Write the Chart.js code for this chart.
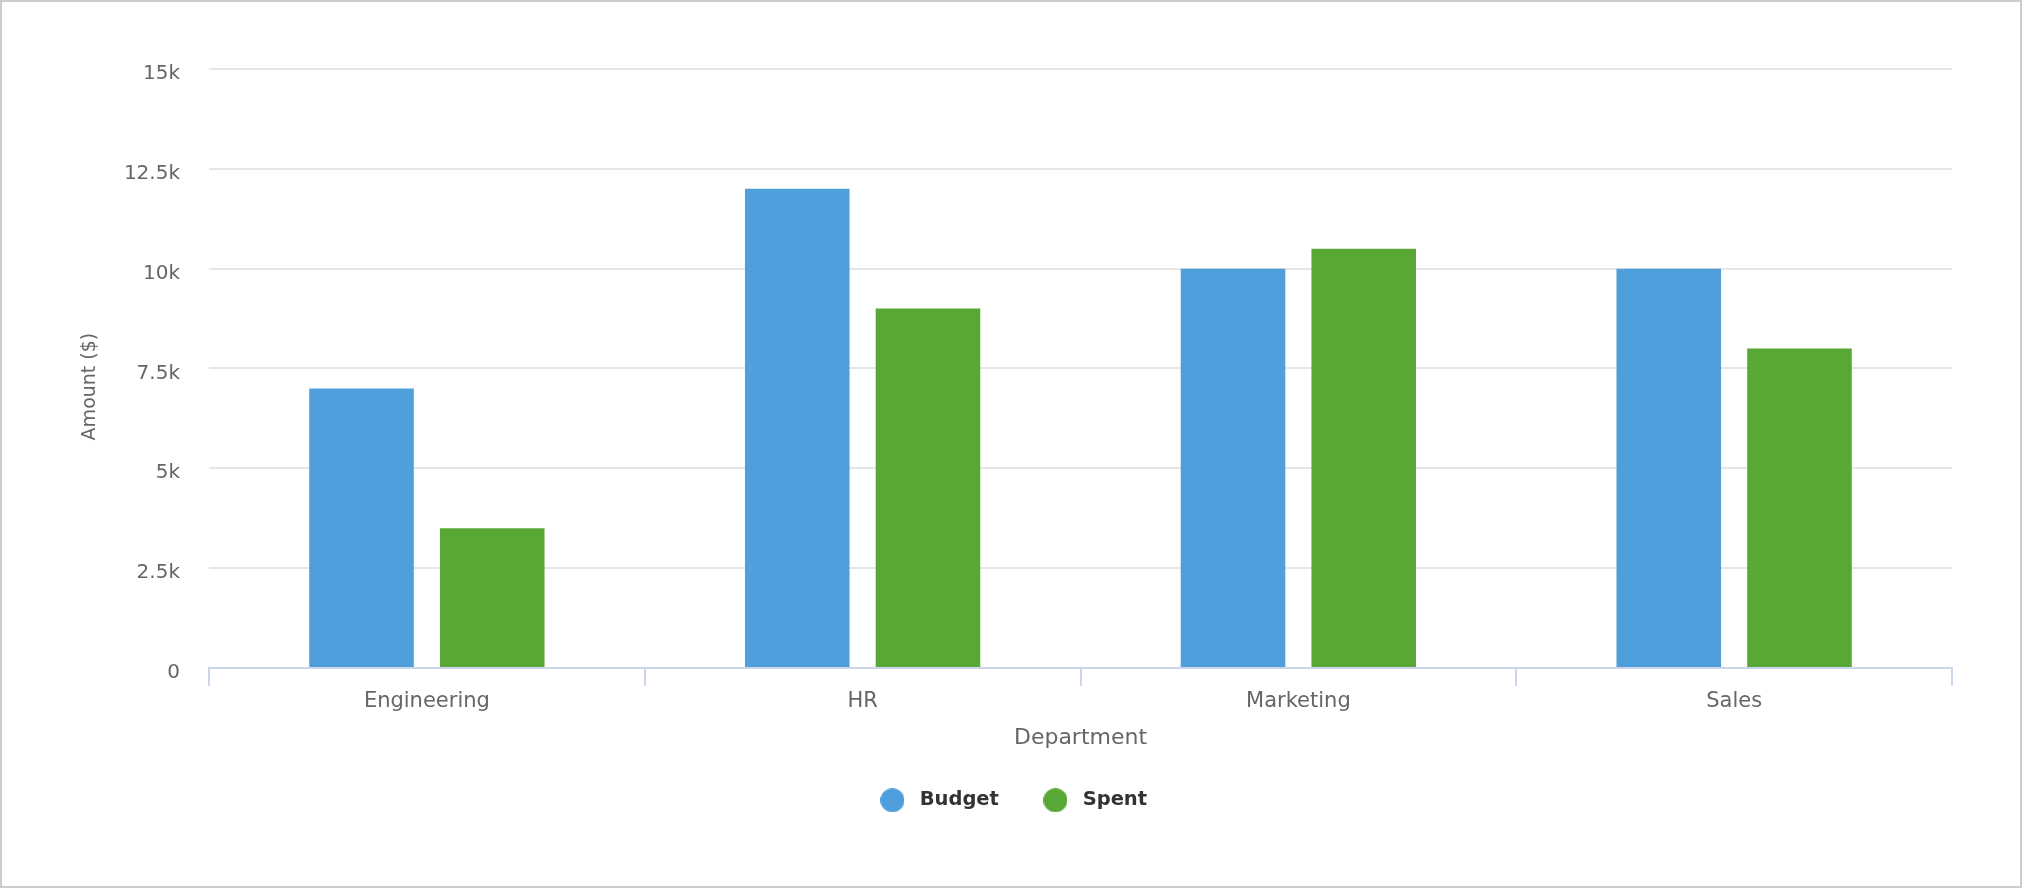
<!DOCTYPE html>
<html><head><meta charset="utf-8">
<script src="https://cdn.jsdelivr.net/npm/chart.js@4/dist/chart.umd.min.js"></script>
<style>
html,body{margin:0;padding:0;background:#fff;}
#wrap{position:relative;width:2022px;height:888px;overflow:hidden;}
#frame{position:absolute;left:0;top:0;width:2022px;height:888px;box-sizing:border-box;border:2px solid #cccccc;pointer-events:none;}
canvas{position:absolute;left:0;top:0;}
</style></head><body>
<div id="wrap"><canvas id="c" width="2022" height="888"></canvas><div id="frame"></div></div>
<script>
const categories = ['Engineering', 'HR', 'Marketing', 'Sales'];
const budgetValues = [7000, 12000, 10000, 10000];
const spentValues = [3500, 9000, 10500, 8000];
const seriesNames = ['Budget', 'Spent'];
const seriesColors = ['#4F9FDC', '#59A835'];
const yTickValues = [0, 2500, 5000, 7500, 10000, 12500, 15000];
const yTickLabels = ['0', '2.5k', '5k', '7.5k', '10k', '12.5k', '15k'];
const xAxisTitle = 'Department';
const yAxisTitle = 'Amount ($)';

function dot(color) {
  const cv = document.createElement('canvas');
  cv.width = 24; cv.height = 24;
  const g = cv.getContext('2d');
  g.fillStyle = color;
  g.beginPath(); g.arc(12, 12, 12, 0, Math.PI * 2); g.fill();
  return cv;
}
const dots = seriesColors.map(dot);

const FONT = "'DejaVu Sans', sans-serif";

new Chart(document.getElementById('c'), {
  type: 'bar',
  data: {
    labels: categories,
    datasets: [
      { label: seriesNames[0], data: budgetValues, backgroundColor: seriesColors[0], borderWidth: 0 },
      { label: seriesNames[1], data: spentValues, backgroundColor: seriesColors[1], borderWidth: 0 }
    ]
  },
  options: {
    responsive: false,
    devicePixelRatio: 1,
    animation: false,
    categoryPercentage: 0.6,
    barPercentage: 0.8,
    layout: { padding: { left: 70, right: 70, top: 69, bottom: 68 } },
    plugins: {
      tooltip: { enabled: false },
      legend: {
        position: 'bottom',
        labels: {
          usePointStyle: true,
          pointStyleWidth: 35,
          padding: 39,
          color: '#333333',
          font: { family: FONT, size: 19.5, weight: 'bold' },
          generateLabels(chart) {
            const items = Chart.defaults.plugins.legend.labels.generateLabels(chart);
            items.forEach((it, i) => { it.pointStyle = dots[i]; });
            return items;
          }
        }
      }
    },
    scales: {
      x: {
        grid: { display: true, drawOnChartArea: false, drawTicks: true, tickLength: 18, color: '#ccd6eb', lineWidth: 2, offset: true },
        border: { display: true, color: '#ccd6eb', width: 2 },
        ticks: { color: '#666666', padding: 3.5, font: { family: FONT, size: 21 } },
        title: { display: true, text: xAxisTitle, color: '#666666', font: { family: FONT, size: 22 }, padding: { top: 7, bottom: 0 } }
      },
      y: {
        min: 0, max: 15000,
        afterFit(scale) { scale.width = 139; },
        afterBuildTicks(scale) { scale.ticks = yTickValues.map(v => ({ value: v })); },
        grid: { drawTicks: false, lineWidth: 2, color: ctx => (ctx.tick && ctx.tick.value === 0) ? 'rgba(0,0,0,0)' : '#e6e6e6' },
        border: { display: false },
        ticks: {
          color: '#666666', padding: 29, labelOffset: 5,
          font: { family: FONT, size: 20 },
          callback: (v) => { const i = yTickValues.indexOf(v); return i >= 0 ? yTickLabels[i] : ''; }
        },
        title: { display: true, text: yAxisTitle + '\u00a0\u00a0\u00a0\u00a0\u00a0\u00a0', color: '#666666', font: { family: FONT, size: 19 }, padding: { top: 8.5, bottom: 0 } }
      }
    }
  }
});
</script>
</body></html>
